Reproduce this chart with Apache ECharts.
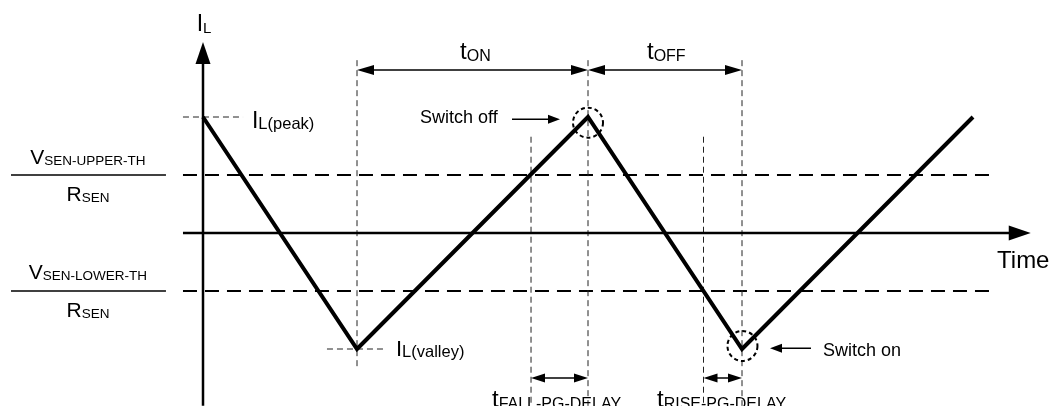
<!DOCTYPE html>
<html>
<head>
<meta charset="utf-8">
<script src="https://cdn.jsdelivr.net/npm/echarts@6/dist/echarts.min.js"></script>
<style>
html,body{margin:0;padding:0;background:#fff;}
#chart{width:1051px;height:406px;}
</style>
</head>
<body>
<div id="chart"></div>
<script>
// ---------- data (time in arbitrary units, current normalised to I_L(peak)) ----------
const waveTime    = [0, 2, 5, 7, 10];
const waveCurrent = [1, -1, 1, -1, 1];
const upperThreshold = 0.5;
const lowerThreshold = -0.5;
const tOnStart = 2, tOnEnd = 5, tOffEnd = 7;
const fallDelayStart = 4.26, riseDelayStart = 6.5;
const peakCurrent = 1, valleyCurrent = -1;

// text content
const labelTexts = [
  ['I', 'L'], ['I', 'L(peak)'], ['I', 'L(valley)'],
  ['t', 'ON'], ['t', 'OFF'],
  ['Switch off', ''], ['Switch on', ''], ['Time', ''],
  ['t', 'FALL-PG-DELAY'], ['t', 'RISE-PG-DELAY'],
  ['V', 'SEN-UPPER-TH'], ['R', 'SEN'], ['V', 'SEN-LOWER-TH'], ['R', 'SEN']
];

// ---------- annotation layout (data coordinates) ----------
const axisTimeExtent = [-0.26, 10.75];
const axisCurrentExtent = [-1.49, 1.647];
const thresholdExtent = [-0.26, 10.26];
const fractionBarExtent = [-2.494, -0.481];
const dimArrowTop = 1.405, dimArrowBottom = -1.25;
const guideTop = 1.49, guideBottom = -1.49, delayGuideTop = 0.83, valleyGuideBottom = -1.164;

const labelLayout = [
  // t, I(baseline), align, mainSize, subSize
  [0.013, 1.728, 'center', 23, 15],
  [0.636, 0.892, 'left', 23, 16.5],
  [2.506, -1.078, 'left', 22, 16.5],
  [3.338, 1.483, 'left', 24, 16],
  [5.766, 1.483, 'left', 24, 16],
  [2.818, 0.940, 'left', 18, 18],
  [8.052, -1.07, 'left', 18, 18],
  [10.312, -0.319, 'left', 24, 24],
  [3.753, -1.517, 'left', 24, 16],
  [5.896, -1.517, 'left', 24, 16],
  [-1.494, 0.586, 'center', 21, 13.5],
  [-1.494, 0.267, 'center', 21, 13.5],
  [-1.494, -0.405, 'center', 21, 13.5],
  [-1.494, -0.733, 'center', 21, 13.5]
];

const FONT = '"Liberation Sans", Arial, Helvetica, sans-serif';

// ---------- build series data from the arrays ----------
const waveData = waveTime.map((t, i) => [t, waveCurrent[i]]);

const thickDashed = [
  [thresholdExtent[0], upperThreshold, thresholdExtent[1], upperThreshold],
  [thresholdExtent[0], lowerThreshold, thresholdExtent[1], lowerThreshold]
];
const fractionBars = [
  [fractionBarExtent[0], upperThreshold, fractionBarExtent[1], upperThreshold],
  [fractionBarExtent[0], lowerThreshold, fractionBarExtent[1], lowerThreshold]
];
const thinGuides = [
  [tOnStart, guideTop, tOnStart, valleyGuideBottom],
  [tOnEnd, guideTop, tOnEnd, guideBottom],
  [tOffEnd, guideTop, tOffEnd, guideBottom],
  [fallDelayStart, delayGuideTop, fallDelayStart, guideBottom],
  [riseDelayStart, delayGuideTop, riseDelayStart, guideBottom],
  [thresholdExtent[0], peakCurrent, 0.52, peakCurrent],
  [1.61, valleyCurrent, 2.36, valleyCurrent]
];
const axisArrows = [
  [0, axisCurrentExtent[0], 0, axisCurrentExtent[1], 0, 1],
  [axisTimeExtent[0], 0, axisTimeExtent[1], 0, 0, 1]
];
const dimArrows = [
  [tOnStart, dimArrowTop, tOnEnd, dimArrowTop, 1, 1],
  [tOnEnd, dimArrowTop, tOffEnd, dimArrowTop, 1, 1]
];
const delayArrows = [
  [fallDelayStart, dimArrowBottom, tOnEnd, dimArrowBottom, 1, 1],
  [riseDelayStart, dimArrowBottom, tOffEnd, dimArrowBottom, 1, 1]
];
const pointerArrows = [
  [4.013, 0.98, 4.636, 0.98, 0, 1],
  [7.896, -0.994, 7.364, -0.994, 0, 1]
];
const switchCircles = [[5.0, 0.951], [7.006, -0.974]];
const labelData = labelLayout.map(l => [l[0], l[1]]);

// ---------- renderers ----------
function segmentRenderer(style) {
  return function (params, api) {
    const a = api.coord([api.value(0), api.value(1)]);
    const b = api.coord([api.value(2), api.value(3)]);
    return { type: 'line', shape: { x1: a[0], y1: a[1], x2: b[0], y2: b[1] }, style: Object.assign({ fill: null }, style) };
  };
}
function arrowRenderer(opt) {
  return function (params, api) {
    const a = api.coord([api.value(0), api.value(1)]);
    const b = api.coord([api.value(2), api.value(3)]);
    const hs = api.value(4), he = api.value(5);
    const dx = b[0] - a[0], dy = b[1] - a[1];
    const len = Math.hypot(dx, dy), ux = dx / len, uy = dy / len;
    const L = opt.headLen, W = opt.headWidth / 2;
    let s = a, e = b;
    if (hs) s = [a[0] + ux * L * 0.7, a[1] + uy * L * 0.7];
    if (he) e = [b[0] - ux * L * 0.7, b[1] - uy * L * 0.7];
    const children = [{ type: 'line', shape: { x1: s[0], y1: s[1], x2: e[0], y2: e[1] }, style: { stroke: '#000', lineWidth: opt.width } }];
    function head(tip, dx2, dy2) {
      const bx = tip[0] - dx2 * L, by = tip[1] - dy2 * L;
      return { type: 'polygon', shape: { points: [tip, [bx - dy2 * W, by + dx2 * W], [bx + dy2 * W, by - dx2 * W]] }, style: { fill: '#000' } };
    }
    if (hs) children.push(head(a, -ux, -uy));
    if (he) children.push(head(b, ux, uy));
    return { type: 'group', children };
  };
}
function circleRenderer(params, api) {
  const c = api.coord([api.value(0), api.value(1)]);
  return { type: 'circle', shape: { cx: c[0], cy: c[1], r: 15 }, style: { fill: null, stroke: '#000', lineWidth: 2, lineDash: [4, 3] } };
}
function labelRenderer(params, api) {
  const i = params.dataIndex;
  const p = api.coord([api.value(0), api.value(1)]);
  const lay = labelLayout[i];
  const txt = labelTexts[i];
  const mainSize = lay[3], subSize = lay[4];
  const text = txt[1] ? '{m|' + txt[0] + '}{s|' + txt[1] + '}' : '{m|' + txt[0] + '}';
  return {
    type: 'text',
    x: p[0],
    y: p[1] + 0.1535 * mainSize,
    style: {
      text: text,
      align: lay[2],
      verticalAlign: 'bottom',
      fill: '#000',
      rich: {
        m: { fontSize: mainSize, fontFamily: FONT, fill: '#000', verticalAlign: 'bottom' },
        s: { fontSize: subSize, fontFamily: FONT, fill: '#000', verticalAlign: 'bottom' }
      }
    }
  };
}

function customSeries(data, renderItem, z) {
  return { type: 'custom', data: data, renderItem: renderItem, clip: false, silent: true, z: z || 2,
           encode: { x: [0], y: [1] } };
}

const chart = echarts.init(document.getElementById('chart'), null, { renderer: 'canvas' });
chart.setOption({
  animation: false,
  backgroundColor: '#fff',
  grid: { left: 203, right: 78, top: 117, bottom: 57 },
  xAxis: { type: 'value', min: 0, max: 10, show: false },
  yAxis: { type: 'value', min: -1, max: 1, show: false },
  series: [
    customSeries(thickDashed, segmentRenderer({ stroke: '#000', lineWidth: 2, lineDash: [14, 8] })),
    customSeries(fractionBars, segmentRenderer({ stroke: '#000', lineWidth: 1.6 })),
    customSeries(thinGuides, segmentRenderer({ stroke: '#222', lineWidth: 1, lineDash: [6, 4] })),
    customSeries(axisArrows, arrowRenderer({ width: 2.5, headLen: 22, headWidth: 15 }), 3),
    customSeries(dimArrows, arrowRenderer({ width: 1.5, headLen: 17, headWidth: 10 })),
    customSeries(delayArrows, arrowRenderer({ width: 1.5, headLen: 14, headWidth: 9 })),
    customSeries(pointerArrows, arrowRenderer({ width: 1.5, headLen: 12, headWidth: 9 })),
    {
      type: 'line', data: waveData, symbol: 'none', clip: false, silent: true, z: 4,
      lineStyle: { color: '#000', width: 4, join: 'miter', cap: 'butt' }
    },
    customSeries(switchCircles, circleRenderer, 5),
    customSeries(labelData, labelRenderer, 6)
  ]
});
</script>
</body>
</html>
